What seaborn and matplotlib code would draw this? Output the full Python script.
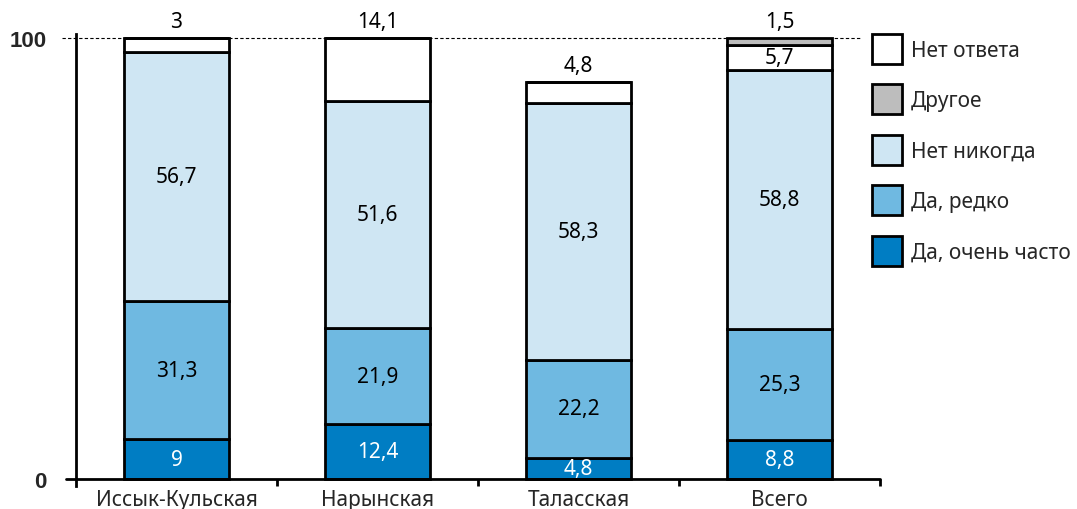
import numpy as np
import pandas as pd
import matplotlib
matplotlib.use("Agg")
import matplotlib.pyplot as plt
from matplotlib.patches import Patch
import seaborn as sns

# Survey answers by region, percent of respondents
regions = ["Иссык-Кульская", "Нарынская", "Таласская", "Всего"]
series_names = ["Да, очень часто", "Да, редко", "Нет никогда", "Нет ответа", "Другое"]
very_often = [9.0, 12.4, 4.8, 8.8]
rarely = [31.3, 21.9, 22.2, 25.3]
never = [56.7, 51.6, 58.3, 58.8]
no_answer = [3.0, 14.1, 4.8, 5.7]
other = [0.0, 0.0, 0.0, 1.5]
y_ticks = [0, 100]
legend_order = ["Нет ответа", "Другое", "Нет никогда", "Да, редко", "Да, очень часто"]

series_values = [very_often, rarely, never, no_answer, other]
colors = ["#007DC3", "#6FB9E1", "#CFE6F3", "#FFFFFF", "#BDBDBD"]
text_colors = ["white", "black", "black", "black", "black"]

sns.set_theme(style="white")
plt.rcParams["font.family"] = ["Noto Sans", "DejaVu Sans"]

FS = 15
W, H = 1077, 510
fig = plt.figure(figsize=(W / 100, H / 100), dpi=100)
# axes box in pixels: left 76, right 880, top 35, bottom 487
ax = fig.add_axes([76 / W, (H - 487) / H, (880 - 76) / W, (487 - 35) / H])

bar_width = 0.52
bottoms = np.zeros(len(regions))
for name, vals, col in zip(series_names, series_values, colors):
    df = pd.DataFrame({"region": regions, "value": vals})
    sns.barplot(data=df, x="region", y="value", order=regions, ax=ax,
                bottom=bottoms.copy(), color=col, edgecolor="black",
                linewidth=2, width=bar_width, errorbar=None, saturation=1)
    bottoms += np.array(vals)

# value labels: the topmost segment of each bar is labelled above the bar
for i in range(len(regions)):
    base = 0.0
    top_idx = max(k for k in range(len(series_values)) if series_values[k][i] > 0)
    for k, vals in enumerate(series_values):
        v = vals[i]
        if v <= 0:
            continue
        txt = f"{v:g}".replace(".", ",")
        if k == top_idx:
            ax.text(i, base + v + 1.4, txt, ha="center", va="bottom",
                    fontsize=FS, color="black", clip_on=False)
        else:
            ax.text(i, base + v / 2, txt, ha="center", va="center",
                    fontsize=FS, color=text_colors[k])
        base += v

ax.set_xlim(-0.5, 3.5)
ax.set_ylim(-1.6, 101.0)
ax.set_xlabel("")
ax.set_ylabel("")

for s in ["top", "right", "bottom"]:
    ax.spines[s].set_visible(False)
ax.spines["left"].set_visible(True)
ax.spines["left"].set_color("black")
ax.spines["left"].set_linewidth(2)

# baseline with a short stub left of the y axis, and separators between groups
ax.plot([-0.55, 3.5], [0, 0], color="black", lw=2, clip_on=False, zorder=5)
ax.vlines([0.5, 1.5, 2.5, 3.5], -1.6, 0, color="black", lw=2, clip_on=False)
# dashed reference line at 100
ax.plot([-0.57, 3.41], [100, 100], color="black", lw=0.8, ls=(0, (3, 2)),
        clip_on=False, zorder=0)

ax.set_yticks(y_ticks)
ax.set_yticklabels([str(t) for t in y_ticks], fontsize=16, fontweight="bold",
                   family=["Liberation Sans", "DejaVu Sans"])
ax.tick_params(axis="y", length=0, pad=21)
ax.set_xticks(range(len(regions)))
ax.set_xticklabels(regions, fontsize=FS)
ax.tick_params(axis="x", length=0, pad=2)

color_of = dict(zip(series_names, colors))
handles = [Patch(facecolor=color_of[n], edgecolor="black", linewidth=2)
           for n in legend_order]
fig.legend(handles, legend_order, loc="upper left",
           bbox_to_anchor=(872 / W, 1 - 35 / H), frameon=False, fontsize=FS,
           handlelength=1.45, handleheight=1.84, handletextpad=0.4,
           labelspacing=0.98, borderpad=0, borderaxespad=0)

fig.savefig("out.png", dpi=100)
